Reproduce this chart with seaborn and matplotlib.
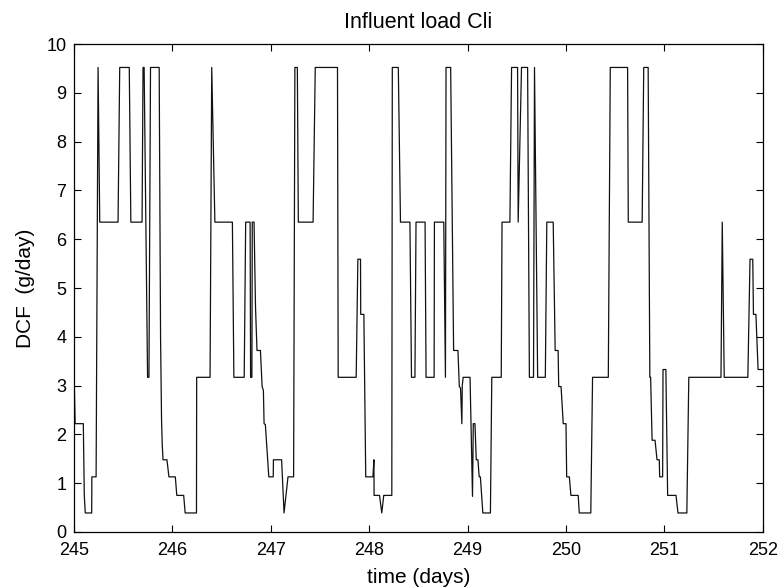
import matplotlib
matplotlib.use("Agg")
import matplotlib.pyplot as plt
import seaborn as sns
import pandas as pd

time_days = [
    245.000, 245.012, 245.095, 245.105, 245.115, 245.180, 245.182, 245.225, 245.245, 245.262,
    245.448, 245.465, 245.562, 245.578, 245.692, 245.702, 245.713, 245.748, 245.762, 245.778,
    245.866, 245.872, 245.880, 245.890, 245.897, 245.905, 245.945, 245.965, 246.030, 246.045,
    246.115, 246.130, 246.245, 246.247, 246.383, 246.400, 246.432, 246.610, 246.625, 246.730,
    246.745, 246.790, 246.795, 246.808, 246.812, 246.830, 246.845, 246.860, 246.895, 246.912,
    246.925, 246.932, 246.945, 246.980, 247.025, 247.027, 247.110, 247.135, 247.175, 247.232,
    247.245, 247.270, 247.280, 247.430, 247.452, 247.678, 247.685, 247.868, 247.885, 247.912,
    247.914, 247.946, 247.965, 248.038, 248.048, 248.050, 248.105, 248.128, 248.148, 248.230,
    248.235, 248.296, 248.318, 248.414, 248.430, 248.465, 248.476, 248.568, 248.578, 248.660,
    248.663, 248.758, 248.775, 248.781, 248.828, 248.845, 248.858, 248.902, 248.916, 248.928,
    248.942, 248.946, 248.955, 249.025, 249.050, 249.058, 249.075, 249.088, 249.105, 249.118,
    249.130, 249.155, 249.232, 249.246, 249.342, 249.350, 249.430, 249.447, 249.508, 249.514,
    249.548, 249.610, 249.628, 249.670, 249.680, 249.712, 249.790, 249.805, 249.870, 249.890,
    249.920, 249.926, 249.950, 249.972, 250.000, 250.007, 250.034, 250.050, 250.124, 250.135,
    250.252, 250.270, 250.430, 250.450, 250.626, 250.633, 250.774, 250.790, 250.835, 250.852,
    250.860, 250.875, 250.905, 250.925, 250.948, 250.952, 250.982, 250.986, 251.015, 251.033,
    251.118, 251.138, 251.228, 251.248, 251.575, 251.588, 251.608, 251.848, 251.870, 251.898,
    251.905, 251.930, 251.952, 252.000,
]

dcf_values = [
    3.33, 2.22, 2.22, 0.75, 0.39, 0.39, 1.13, 1.13, 9.52, 6.35,
    6.35, 9.52, 9.52, 6.35, 6.35, 9.52, 9.52, 3.17, 3.17, 9.52,
    9.52, 7.00, 4.00, 2.30, 1.80, 1.48, 1.48, 1.13, 1.13, 0.75,
    0.75, 0.39, 0.39, 3.17, 3.17, 9.52, 6.35, 6.35, 3.17, 3.17,
    6.35, 6.35, 3.17, 3.17, 6.35, 6.35, 4.60, 3.72, 3.72, 2.98,
    2.90, 2.22, 2.20, 1.13, 1.13, 1.48, 1.48, 0.39, 1.13, 1.13,
    9.52, 9.52, 6.35, 6.35, 9.52, 9.52, 3.17, 3.17, 5.59, 5.59,
    4.46, 4.46, 1.13, 1.13, 1.48, 0.75, 0.75, 0.39, 0.75, 0.75,
    9.52, 9.52, 6.35, 6.35, 3.17, 3.17, 6.35, 6.35, 3.17, 3.17,
    6.35, 6.35, 3.17, 9.52, 9.52, 6.35, 3.72, 3.72, 2.98, 2.95,
    2.22, 3.00, 3.17, 3.17, 0.73, 2.22, 2.22, 1.48, 1.48, 1.13,
    1.13, 0.39, 0.39, 3.17, 3.17, 6.35, 6.35, 9.52, 9.52, 6.35,
    9.52, 9.52, 3.17, 3.17, 9.52, 3.17, 3.17, 6.35, 6.35, 3.72,
    3.72, 2.98, 2.98, 2.22, 2.22, 1.13, 1.13, 0.75, 0.75, 0.39,
    0.39, 3.17, 3.17, 9.52, 9.52, 6.35, 6.35, 9.52, 9.52, 3.17,
    3.17, 1.88, 1.88, 1.48, 1.48, 1.13, 1.13, 3.33, 3.33, 0.75,
    0.75, 0.39, 0.39, 3.17, 3.17, 6.35, 3.17, 3.17, 5.59, 5.59,
    4.46, 4.46, 3.33, 3.33,
]

x_ticks = [245, 246, 247, 248, 249, 250, 251, 252]
y_ticks = [0, 1, 2, 3, 4, 5, 6, 7, 8, 9, 10]

df = pd.DataFrame({"time": time_days, "dcf": dcf_values})

sns.set_style("ticks")
plt.rcParams["font.family"] = ["Liberation Sans", "DejaVu Sans"]
plt.rcParams["xtick.direction"] = "in"
plt.rcParams["ytick.direction"] = "in"
plt.rcParams["text.color"] = "black"
plt.rcParams["axes.labelcolor"] = "black"

fig = plt.figure(figsize=(7.81, 5.87), dpi=100)
ax = fig.add_axes([0.0947, 0.0937, 0.882, 0.8313])

sns.lineplot(data=df, x="time", y="dcf", ax=ax, sort=False, estimator=None,
             color="#111111", linewidth=0.9)

ax.set_xlim(245, 252)
ax.set_ylim(0, 10)
ax.set_xticks(x_ticks)
ax.set_yticks(y_ticks)
ax.tick_params(axis="both", which="both", top=True, right=True, length=5,
               width=0.8, labelsize=13, colors="black")
ax.tick_params(axis="x", pad=7.5)
ax.tick_params(axis="y", pad=5.5)
for s in ax.spines.values():
    s.set_visible(True)
    s.set_color("black")
    s.set_linewidth(0.9)

ax.set_xlabel("time (days)", fontsize=15, labelpad=6, color="black")
ax.set_ylabel("DCF  (g/day)", fontsize=15, labelpad=8, color="black")
ax.set_title("Influent load Cli", fontsize=15.5, color="black",
             family=["Liberation Sans Narrow", "Liberation Sans", "DejaVu Sans"], pad=11.5)

fig.savefig("out.png", dpi=100)
